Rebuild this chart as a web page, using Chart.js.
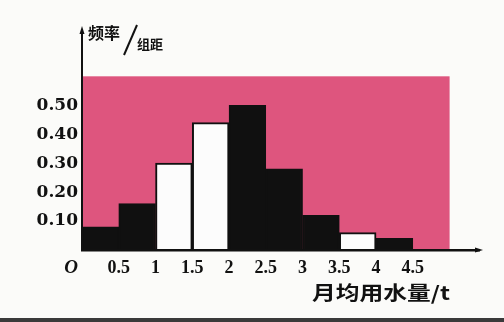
<!DOCTYPE html>
<html>
<head>
<meta charset="utf-8">
<script src="https://cdn.jsdelivr.net/npm/chart.js@4.4.1/dist/chart.umd.min.js"></script>
<style>
  html, body { margin: 0; padding: 0; background: #fbfbf9; }
  canvas { display: block; }
</style>
</head>
<body>
<canvas id="hist" width="504" height="322"></canvas>
<script>
// histogram: 月均用水量 (t) vs 频率/组距
const binStarts = [0, 0.5, 1, 1.5, 2, 2.5, 3, 3.5, 4];
const binWidth = 0.5;
const density = [0.08, 0.16, 0.30, 0.44, 0.50, 0.28, 0.12, 0.06, 0.04];
const hollowBins = [2, 3, 7];
const xTickValues = [0.5, 1, 1.5, 2, 2.5, 3, 3.5, 4, 4.5];
const yTickValues = [0.10, 0.20, 0.30, 0.40, 0.50];
const shadeRange = [0, 5];
const shadeTop = 0.6;
const yTitle = ['频率', '组距'];
const xTitle = '月均用水量/t';

const INK = '#111';
const PINK = '#de557e';

const decor = {
    id: 'decor',
    beforeDraw(chart) {
        const { ctx, scales: { x, y } } = chart;
        ctx.save();
        ctx.fillStyle = '#fbfbf9';
        ctx.fillRect(0, 0, chart.width, chart.height);
        // pink backdrop behind the bars
        const x0 = x.getPixelForValue(shadeRange[0]);
        const x1 = x.getPixelForValue(shadeRange[1]);
        const yTop = y.getPixelForValue(shadeTop);
        const yBot = y.getPixelForValue(0);
        ctx.fillStyle = PINK;
        ctx.fillRect(x0, yTop, x1 - x0, yBot - yTop);
        // dark scan edge at the bottom
        ctx.fillStyle = '#3a3a3a';
        ctx.fillRect(0, chart.height - 4, chart.width, 4);
        ctx.restore();
    },
    afterDraw(chart) {
        const { ctx, chartArea: a } = chart;
        ctx.save();
        ctx.fillStyle = INK;
        ctx.strokeStyle = INK;

        // arrow heads
        ctx.beginPath();
        ctx.moveTo(a.left, a.top - 4);
        ctx.lineTo(a.left - 2.5, a.top + 4);
        ctx.lineTo(a.left + 2.5, a.top + 4);
        ctx.closePath();
        ctx.fill();
        ctx.beginPath();
        ctx.moveTo(a.right + 4, a.bottom);
        ctx.lineTo(a.right - 4, a.bottom - 2.5);
        ctx.lineTo(a.right - 4, a.bottom + 2.5);
        ctx.closePath();
        ctx.fill();

        // y title: 频率 / 组距
        ctx.textBaseline = 'middle';
        ctx.textAlign = 'left';
        ctx.font = 'bold 16px "Noto Sans CJK SC"';
        ctx.fillText(yTitle[0], a.left + 6, 33);
        ctx.lineWidth = 2;
        ctx.beginPath();
        ctx.moveTo(a.left + 42, 55);
        ctx.lineTo(a.left + 55, 25);
        ctx.stroke();
        ctx.font = 'bold 13px "Noto Sans CJK SC"';
        ctx.fillText(yTitle[1], a.left + 55, 44);

        // origin
        ctx.textAlign = 'center';
        ctx.font = 'italic bold 19px "Liberation Serif"';
        ctx.fillText('O', a.left - 11, a.bottom + 18);

        // x title, stretched like the scan
        ctx.save();
        ctx.translate(312, 293);
        ctx.scale(1.25, 1);
        ctx.textAlign = 'left';
        ctx.font = 'bold 19px "Noto Sans CJK SC"';
        ctx.fillText(xTitle, 0, 0);
        ctx.restore();

        ctx.restore();
    }
};

new Chart(document.getElementById('hist'), {
    type: 'bar',
    data: {
        datasets: [{
            data: binStarts.map((s, i) => ({ x: s + binWidth / 2, y: density[i] })),
            backgroundColor: binStarts.map((s, i) => hollowBins.includes(i) ? '#fcfcfc' : '#101010'),
            borderColor: '#101010',
            borderWidth: 2,
            barPercentage: 1,
            categoryPercentage: 1
        }]
    },
    options: {
        responsive: false,
        animation: false,
        devicePixelRatio: 1,
        layout: { padding: { top: 30, right: 25, left: 0, bottom: 0 } },
        plugins: { legend: { display: false }, tooltip: { enabled: false } },
        scales: {
            x: {
                type: 'linear',
                offset: false,
                min: 0,
                max: 5.4,
                grid: { display: false, drawTicks: false },
                border: { color: INK, width: 2.5, z: 1 },
                afterBuildTicks: s => { s.ticks = xTickValues.map(v => ({ value: v })); },
                afterFit: s => { s.height = 72; },
                ticks: {
                    autoSkip: false,
                    maxRotation: 0,
                    padding: 8,
                    color: INK,
                    font: { family: 'Liberation Serif', weight: 'bold', size: 18 },
                    callback: v => String(v)
                }
            },
            y: {
                min: 0,
                max: 0.76,
                grid: { display: false, drawTicks: false },
                border: { color: INK, width: 2, z: 1 },
                afterBuildTicks: s => { s.ticks = yTickValues.map(v => ({ value: v })); },
                afterFit: s => { s.width = 82; },
                ticks: {
                    padding: 4,
                    color: INK,
                    font: { family: 'DejaVu Serif', weight: 'bold', size: 17 },
                    callback: v => v.toFixed(2)
                }
            }
        }
    },
    plugins: [decor]
});
</script>
</body>
</html>
